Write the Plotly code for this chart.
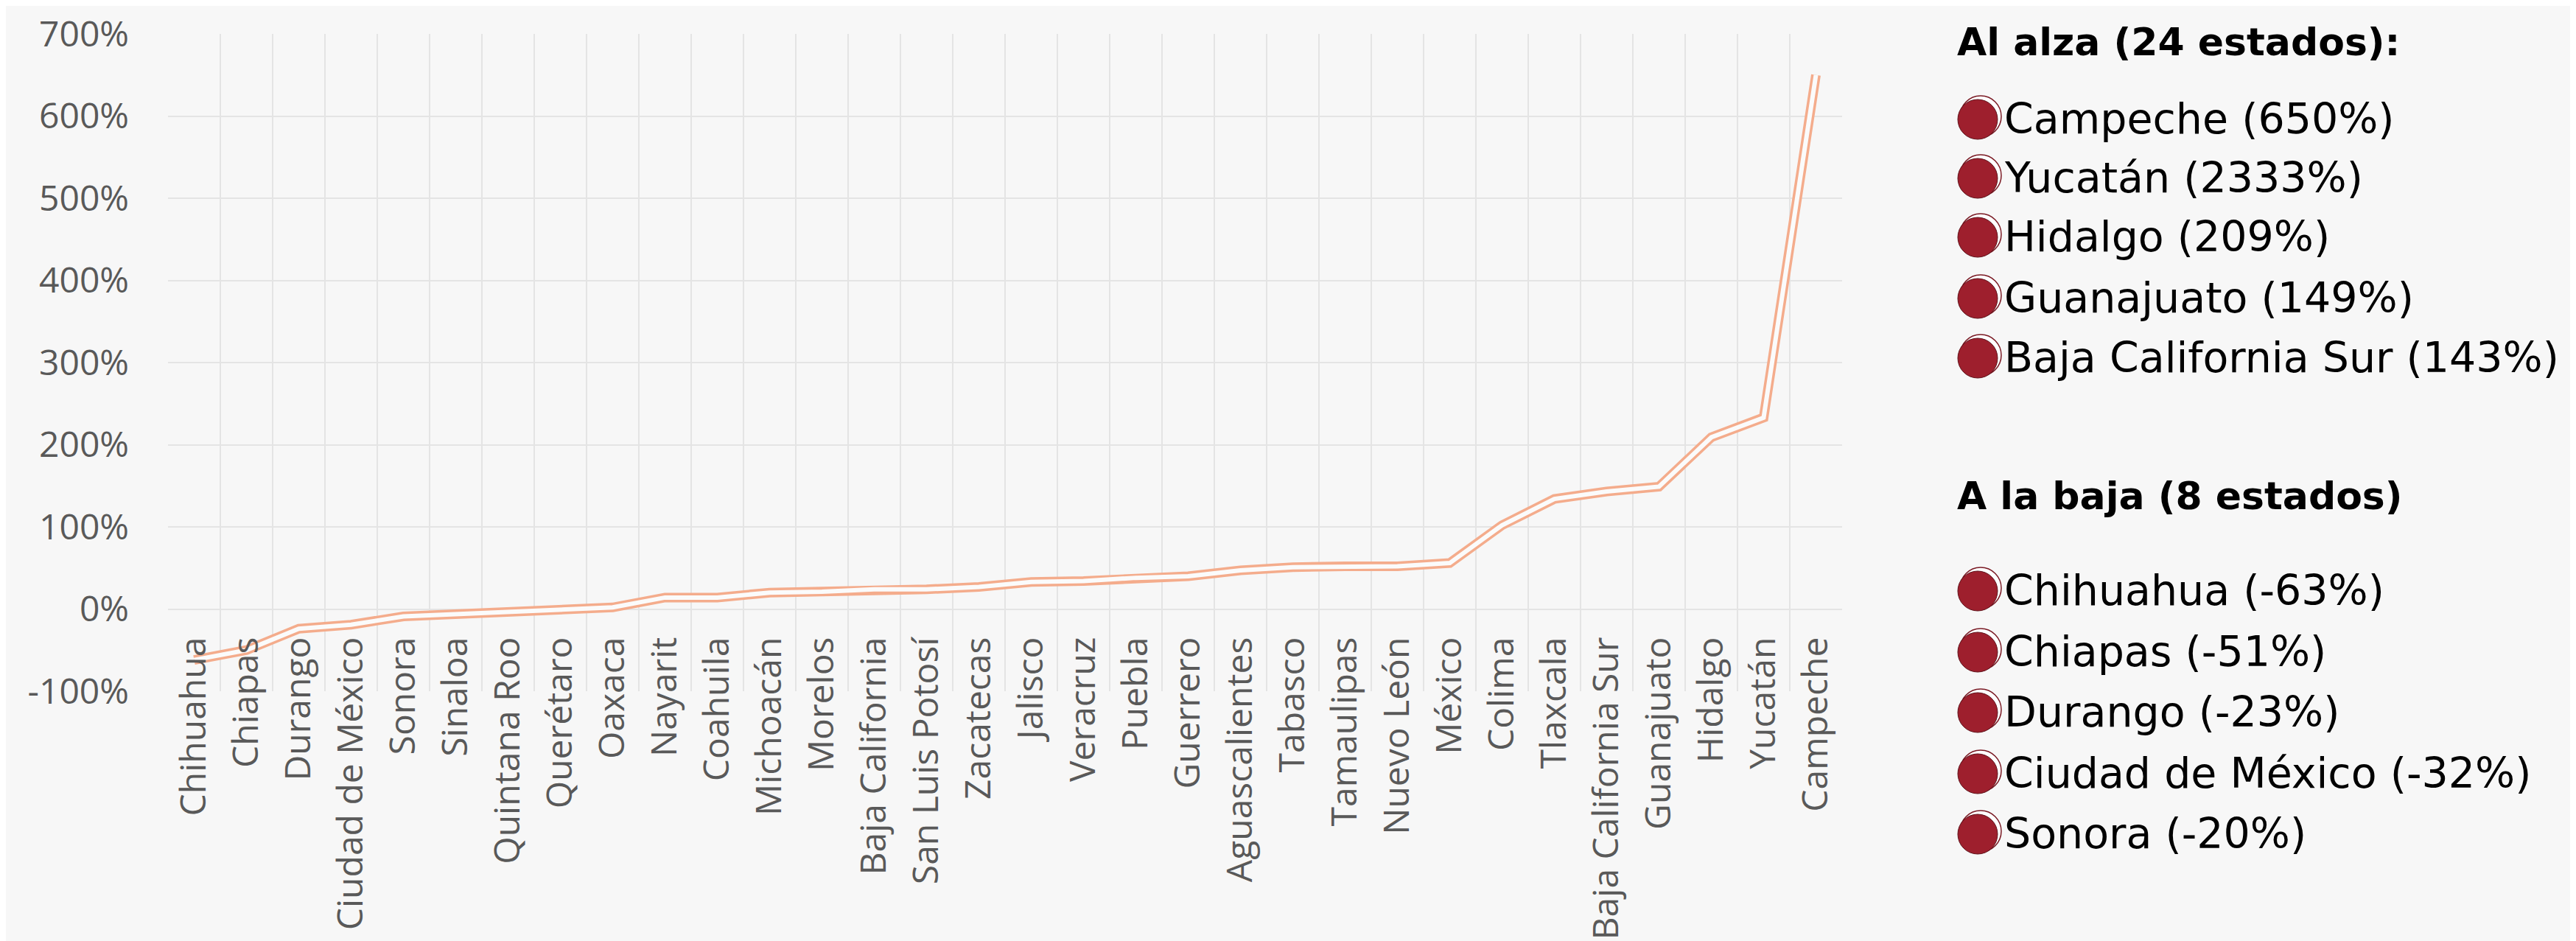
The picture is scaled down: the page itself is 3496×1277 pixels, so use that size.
import plotly.graph_objects as go

# ---------------- data ----------------
estados = ["Chihuahua", "Chiapas", "Durango", "Ciudad de México", "Sonora", "Sinaloa",
           "Quintana Roo", "Querétaro", "Oaxaca", "Nayarit", "Coahuila", "Michoacán",
           "Morelos", "Baja California", "San Luis Potosí", "Zacatecas", "Jalisco",
           "Veracruz", "Puebla", "Guerrero", "Aguascalientes", "Tabasco", "Tamaulipas",
           "Nuevo León", "México", "Colima", "Tlaxcala", "Baja California Sur",
           "Guanajuato", "Hidalgo", "Yucatán", "Campeche"]
variacion = [-62, -50, -24, -19, -9, -6, -4, 0, 2, 14, 14, 20, 21, 24, 24, 27, 33, 34,
             38, 40, 47, 51, 52, 52, 56, 102, 134, 143, 149, 209, 233, 650]

y_ticks = [-100, 0, 100, 200, 300, 400, 500, 600, 700]
y_tick_labels = ["-100%", "0%", "100%", "200%", "300%", "400%", "500%", "600%", "700%"]

alza_titulo = "Al alza (24 estados):"
alza_items = ["Campeche (650%)", "Yucatán (2333%)", "Hidalgo (209%)",
              "Guanajuato (149%)", "Baja California Sur (143%)"]
baja_titulo = "A la baja (8 estados)"
baja_items = ["Chihuahua (-63%)", "Chiapas (-51%)", "Durango (-23%)",
              "Ciudad de México (-32%)", "Sonora (-20%)"]

# ---------------- layout geometry (pixels) ----------------
W, H = 3496, 1277
L, R, T, B = 220, 2492, 38, 930
BG = "#f7f7f7"
GRID = "#e4e4e4"
LINE = "#F4AC8C"
RED = "#9E1F2D"


def px_x(x):
    return (x - L) / (R - L)


def px_y(y):
    return (B - y) / (B - T)


fig = go.Figure()
# double line look: thick salmon line with a light line inside
fig.add_trace(go.Scatter(x=estados, y=variacion, mode="lines",
                         line=dict(color=LINE, width=13), hoverinfo="skip",
                         showlegend=False))
fig.add_trace(go.Scatter(x=estados, y=variacion, mode="lines",
                         line=dict(color="#fbfbfb", width=6), showlegend=False))

shapes = []
annotations = []

# titles
for txt, yc in [(alza_titulo, 49), (baja_titulo, 665)]:
    annotations.append(dict(text=txt, xref="paper", yref="paper", x=px_x(2646), y=px_y(yc),
                            xanchor="left", yanchor="middle", showarrow=False,
                            font=dict(family="DejaVu Sans", size=52, color="#000000",
                                      weight="bold")))

rows_alza = [153, 233, 313, 396, 477]
rows_baja = [793, 876, 958, 1041, 1123]
for items, rows in [(alza_items, rows_alza), (baja_items, rows_baja)]:
    for txt, yc in zip(items, rows):
        cx, r = 2677, 28
        # subtle white rim / shadow for the 3D bullet
        shapes.append(dict(type="circle", xref="paper", yref="paper",
                           x0=px_x(cx - r + 3), x1=px_x(cx + r + 3),
                           y0=px_y(yc + r - 3), y1=px_y(yc - r - 3),
                           fillcolor="#ffffff", line=dict(color="#7a1a24", width=1.5)))
        shapes.append(dict(type="circle", xref="paper", yref="paper",
                           x0=px_x(cx - r), x1=px_x(cx + r - 2),
                           y0=px_y(yc + r), y1=px_y(yc - r + 2),
                           fillcolor=RED, line=dict(color="#5e1119", width=1)))
        annotations.append(dict(text=txt, xref="paper", yref="paper", x=px_x(2710), y=px_y(yc),
                                xanchor="left", yanchor="middle", showarrow=False,
                                font=dict(family="DejaVu Sans", size=57, color="#000000")))

fig.update_layout(
    width=W, height=H,
    margin=dict(l=L, r=W - R, t=T, b=H - B, autoexpand=False),
    paper_bgcolor=BG, plot_bgcolor=BG,
    font=dict(family="Open Sans", color="#595959"),
    shapes=shapes, annotations=annotations,
    xaxis=dict(type="category", categoryorder="array", categoryarray=estados,
               range=[-0.5, len(estados) - 0.5], anchor="free", position=px_y(818),
               tickson="boundaries", showgrid=True, gridcolor=GRID, gridwidth=2,
               ticks="", tickangle=-90, showline=False, zeroline=False,
               ticklabelstandoff=28, automargin=False,
               tickfont=dict(family="Open Sans", size=48, color="#595959")),
    yaxis=dict(range=[-100, 700], tickmode="array", tickvals=y_ticks, ticktext=y_tick_labels,
               showgrid=True, gridcolor=GRID, gridwidth=2, zeroline=False,
               showline=False, ticks="", ticklabelstandoff=52, automargin=False,
               tickfont=dict(family="Open Sans", size=48, color="#595959")),
)

fig.write_html("out.html")
